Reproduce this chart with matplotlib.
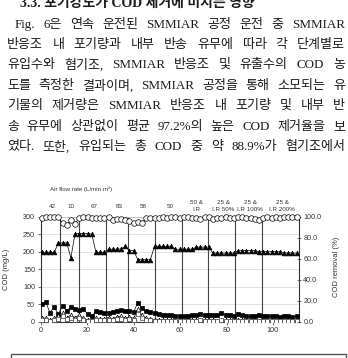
import matplotlib
matplotlib.use("Agg")
import matplotlib.pyplot as plt
from matplotlib.patches import Rectangle

W, H = 348, 358

# --- data ---
days = [0.4, 2.2, 4.0, 5.8, 7.6, 9.4, 11.2, 13.0, 14.8, 16.6, 18.4, 20.2, 22.0, 23.8, 25.6, 27.4,
        29.2, 31.0, 32.8, 34.6, 36.4, 38.2, 40.0, 41.8, 43.6, 45.4, 47.2, 49.0, 50.8, 52.6, 54.4, 56.2,
        58.0, 59.8, 61.6, 63.4, 65.2, 67.0, 68.8, 70.6, 72.4, 74.2, 76.0, 77.8, 79.6, 81.4, 83.2, 85.0,
        86.8, 88.6, 90.4, 92.2, 94.0, 95.8, 97.6, 99.4, 101.2, 103.0, 104.8, 106.6, 108.4, 110.2]

influent = [198, 198, 198, 198, 225, 225, 225, 183, 252, 252, 252, 252, 250, 198, 198, 198,
            207, 207, 207, 208, 215, 203, 203, 177, 177, 177, 177, 215, 215, 215, 215, 215,
            207, 207, 207, 207, 207, 213, 213, 213, 213, 196, 196, 196, 196, 196, 196, 203,
            203, 203, 203, 203, 200, 200, 200, 200, 200, 200, 196, 196, 196, 196]

anaerobic = [50, 55, 26, 41, 22, 45, 30, 42, 36, 33, 35, 22, 15, 31, 27, 26,
             26, 27, 30, 33, 31, 30, 28, 54, 38, 30, 27, 25, 22, 19, 20, 18,
             16, 16, 16, 16, 20, 18, 23, 20, 18, 19, 19, 26, 20, 18, 16, 23,
             18, 16, 15, 16, 18, 15, 15, 16, 15, 14, 15, 16, 14, 16]

smmiar = [12, 10, 5, 10, 15, 24, 10, 19, 12, 19, 10, 5, 5, 10, 7, 9,
          12, 9, 14, 16, 10, 14, 10, 35, 19, 10, 8, 5, 4, 5, 4, 4,
          3, 4, 3, 4, 5, 4, 6, 5, 4, 4, 3, 6, 4, 5, 3, 5,
          4, 3, 4, 5, 3, 4, 3, 4, 3, 4, 3, 4, 3, 4]

effluent = [5, 6, 3, 4, 8, 15, 8, 12, 6, 10, 6, 3, 3, 6, 4, 5,
            6, 5, 8, 9, 6, 8, 6, 22, 10, 6, 4, 3, 2, 3, 2, 2,
            2, 2, 2, 3, 3, 2, 4, 3, 2, 2, 2, 4, 3, 3, 2, 3,
            2, 2, 3, 3, 2, 2, 2, 3, 2, 2, 2, 3, 2, 2]

removal = [99.2, 99.6, 99.8, 99.7, 99.4, 94.0, 92.5, 96.5, 93.0, 99.0, 99.8, 99.4, 98.9, 98.5, 98.6, 98.4,
           99.6, 96.8, 97.8, 97.5, 96.5, 95.5, 94.2, 95.0, 94.0, 98.8, 99.0, 99.2, 98.6, 99.4, 99.0, 99.5,
           99.6, 98.7, 99.3, 99.5, 98.8, 99.0, 98.2, 99.4, 99.6, 98.0, 98.5, 99.2, 99.5, 99.0, 98.6, 99.3,
           99.5, 99.0, 98.4, 98.0, 97.2, 98.8, 99.4, 99.0, 99.5, 99.2, 99.6, 99.4, 99.5, 99.3]

phase_edges = [0, 8.5, 16.3, 28.0, 37.8, 49.0, 60.8, 72.0, 83.8, 95.2, 111]
phase_labels = ["42", "10", "67", "83", "58", "50", "50 &\nI.R", "25 &\nI.R 50%", "25 &\nI.R 100%", "25 &\nI.R 200%"]

heading = "3.3. 포기강도가 COD 제거에 미치는 영향"
body = [
    "Fig. 6은 연속 운전된 SMMIAR 공정 운전 중 SMMIAR",
    "반응조 내 포기량과 내부 반송 유무에 따라 각 단계별로",
    "유입수와 혐기조, SMMIAR 반응조 및 유출수의 COD 농",
    "도를 측정한 결과이며, SMMIAR 공정을 통해 소모되는 유",
    "기물의 제거량은 SMMIAR 반응조 내 포기량 및 내부 반",
    "송 유무에 상관없이 평균 97.2%의 높은 COD 제거율을 보",
    "였다. 또한, 유입되는 총 COD 중 약 88.9%가 혐기조에서",
]

serif = ["Liberation Serif", "Noto Sans CJK KR"]
sans = ["Liberation Sans", "DejaVu Sans"]
ink = "#1c1c1c"

fig = plt.figure(figsize=(W / 100, H / 100), dpi=100)
fig.patch.set_facecolor("white")

# heading, cut off at top of the scan
fig.text(20 / W, 1 - 6.5 / H, heading, family=serif, fontsize=10, weight="bold",
         color=ink, va="baseline", ha="left")

# justified body lines
fig.canvas.draw()
renderer = fig.canvas.get_renderer()
line_y = [25, 45, 65, 86, 106, 127, 147]
for i, (txt, y) in enumerate(zip(body, line_y)):
    words = txt.split(" ")
    objs = [fig.text(0, 1 - y / H, w, family=serif, fontsize=9.4, color=ink, va="center", ha="left")
            for w in words]
    widths = [o.get_window_extent(renderer).width for o in objs]
    x0 = 15 if i == 0 else 7
    x1 = 345
    gap = (x1 - x0 - sum(widths)) / (len(words) - 1)
    x = x0
    for o, wd in zip(objs, widths):
        o.set_x(x / W)
        x += wd + gap

# --- chart ---
ax = fig.add_axes([40.7 / W, 36.3 / H, 257.8 / W, 105 / H])
ax.set_xlim(0, 111)
ax.set_ylim(0, 300)
ax.set_yticks([0, 50, 100, 150, 200, 250, 300])
ax.set_xticks([0, 20, 40, 60, 80, 100])
ax.grid(axis="y", color="#d8d8d8", lw=0.5)
ax.set_axisbelow(True)
for s in ["left", "bottom", "right"]:
    ax.spines[s].set_linewidth(0.8)
    ax.spines[s].set_color("#333333")
ax.spines["top"].set_color("#bbbbbb")
ax.spines["top"].set_linewidth(0.6)
ax.tick_params(labelsize=5.2, length=2, width=0.5, pad=2, colors="#333333")
for lab in ax.get_xticklabels() + ax.get_yticklabels():
    lab.set_family(sans)

for e in phase_edges[1:-1]:
    ax.axvline(e, color="#444444", lw=0.8, zorder=1)

mk = dict(color="black", lw=0.5, mec="black", mew=0.5, zorder=3)
ax.plot(days, influent, marker="^", ms=3.4, mfc="black", **mk)
ax.plot(days, anaerobic, marker="s", ms=2.7, mfc="black", **mk)
ax.plot(days, smmiar, marker="^", ms=3.4, mfc="white", **mk)
ax.plot(days, effluent, marker="s", ms=2.2, mfc="white", color="#666666", lw=0.5, mec="#444444", mew=0.5, zorder=3)

ax2 = ax.twinx()
ax2.set_ylim(0, 100)
ax2.set_yticks([0, 20, 40, 60, 80, 100])
ax2.set_yticklabels(["%.1f" % v for v in [0, 20, 40, 60, 80, 100]], family=sans)
ax2.tick_params(labelsize=5.2, length=3, width=0.5, pad=2, direction="inout", colors="#333333")
for s in ax2.spines.values():
    s.set_visible(False)
ax2.plot(days, removal, marker="o", ms=4.0, mfc="white", mec="black", mew=0.5, color="black", lw=0.5,
         zorder=3, clip_on=False)

ax.set_ylabel("COD (mg/L)", fontsize=5.5, family=sans, color="#333333")
ax.yaxis.set_label_coords(-0.119, 0.5)
ax2.set_ylabel("COD removal (%)", fontsize=5.5, family=sans, color="#333333")
ax2.yaxis.set_label_coords(1.134, 0.52)

# phase labels above the plot
for j, lab in enumerate(phase_labels):
    xc = (phase_edges[j] + phase_edges[j + 1]) / 2 + 0.8
    ax.text(xc, 1.10, lab, transform=ax.get_xaxis_transform(), fontsize=4.5, family=sans,
            ha="center", va="center", color="#333333", linespacing=1.6)

fig.text(50 / W, 1 - 189 / H, "Air flow rate (L/min·m²)", fontsize=4.4, family=sans,
         ha="left", va="center", color="#333333")

# frame of the caption box below the chart
fig.add_artist(Rectangle((11 / W, -0.05), 335 / W, 0.05 + 4 / H, transform=fig.transFigure,
                         fill=False, ec="#555555", lw=1.0))

fig.savefig("out.png", dpi=100)
